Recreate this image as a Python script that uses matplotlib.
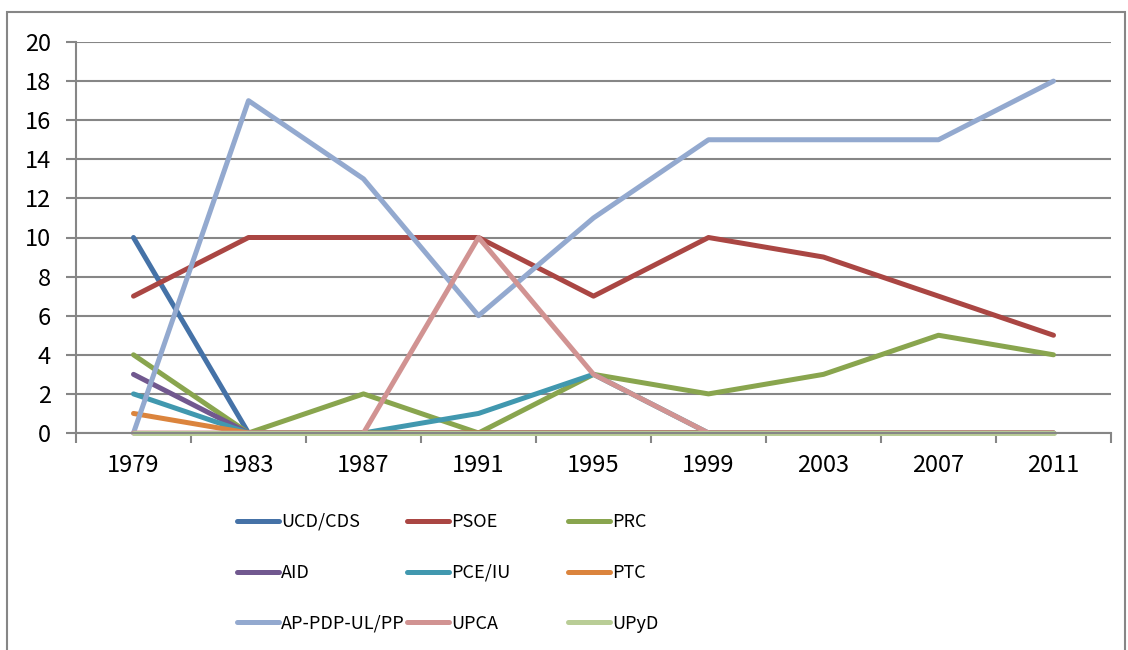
import matplotlib
matplotlib.use('Agg')
from matplotlib import pyplot as plt
from matplotlib.patches import Rectangle
from matplotlib.ticker import FixedLocator

# the Latin glyphs of Noto Sans CJK are narrow, close to Calibri
plt.rcParams['font.family'] = ['Noto Sans CJK JP', 'DejaVu Sans']

years = ['1979', '1983', '1987', '1991', '1995', '1999', '2003', '2007', '2011']

ucd_cds = [10, 0, 0, 0, 0, 0, 0, 0, 0]
psoe = [7, 10, 10, 10, 7, 10, 9, 7, 5]
prc = [4, 0, 2, 0, 3, 2, 3, 5, 4]
aid = [3, 0, 0, 0, 0, 0, 0, 0, 0]
pce_iu = [2, 0, 0, 1, 3, 0, 0, 0, 0]
ptc = [1, 0, 0, 0, 0, 0, 0, 0, 0]
ap_pp = [0, 17, 13, 6, 11, 15, 15, 15, 18]
upca = [0, 0, 0, 10, 3, 0, 0, 0, 0]
upyd = [0, 0, 0, 0, 0, 0, 0, 0, 0]

names = ['UCD/CDS', 'PSOE', 'PRC', 'AID', 'PCE/IU', 'PTC',
         'AP-PDP-UL/PP', 'UPCA', 'UPyD']
series = [ucd_cds, psoe, prc, aid, pce_iu, ptc, ap_pp, upca, upyd]
colors = ['#4572A7', '#AA4643', '#89A54E', '#71588F', '#4198AF',
          '#DB843D', '#93A9CF', '#D19392', '#B9CD96']

fig = plt.figure(figsize=(11.28, 6.5), dpi=100)
ax = fig.add_axes([76 / 1128, 1 - 433 / 650, 1035 / 1128, 391 / 650])

x = list(range(len(years)))
handles = []
for name, vals, c in zip(names, series, colors):
    h, = ax.plot(x, vals, color=c, lw=3.6, label=name, clip_on=False,
                 solid_capstyle='round', solid_joinstyle='round')
    handles.append(h)

ax.set_xlim(-0.5, len(years) - 0.5)
ax.set_ylim(0, 20)
ax.set_yticks(range(0, 21, 2))
ax.set_xticks(x)
ax.set_xticklabels(years)
ax.xaxis.set_minor_locator(FixedLocator([i - 0.5 for i in range(len(years) + 1)]))

ax.tick_params(axis='x', which='major', length=0, pad=15, labelsize=17)
ax.tick_params(axis='x', which='minor', length=7, width=1.5, color='#868686')
ax.tick_params(axis='y', length=7, width=1.5, color='#868686', pad=11, labelsize=17)

ax.grid(axis='y', color='#868686', lw=1.5)
ax.set_axisbelow(True)
for s in ['top', 'right']:
    ax.spines[s].set_visible(False)
ax.spines['left'].set_color('#868686')
ax.spines['left'].set_linewidth(1.5)
ax.spines['bottom'].set_color('#868686')
ax.spines['bottom'].set_linewidth(1.5)

# legend: three columns of equal width, like the original
col_x = [237, 407, 568]
for k in range(3):
    hs = handles[k::3]
    fig.legend(hs, [h.get_label() for h in hs], loc='upper left',
               bbox_to_anchor=(col_x[k] / 1128, 1 - 513 / 650),
               frameon=False, fontsize=13,
               handlelength=2.3, handletextpad=0.15, labelspacing=1.82,
               borderpad=0, borderaxespad=0)

fig.patches.append(Rectangle((7 / 1128, -0.05), 1118 / 1128, 1.05 - 12 / 650,
                             transform=fig.transFigure, fill=False,
                             edgecolor='#868686', lw=1.5))

fig.savefig('out.png', dpi=100)
